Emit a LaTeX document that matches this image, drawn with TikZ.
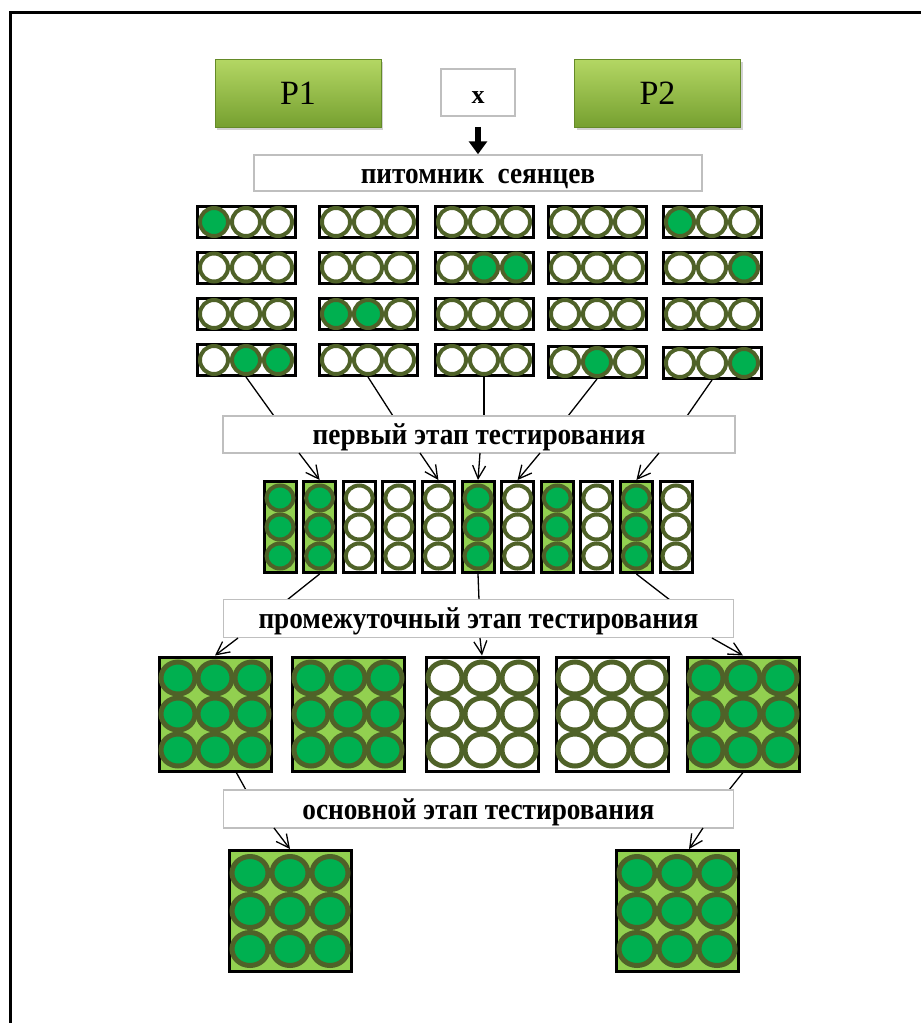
\documentclass[tikz,border=0pt]{standalone}
\usepackage{graphicx}
\usepackage{fontspec}
\setmainfont{Liberation Serif}
\usetikzlibrary{arrows.meta,shadows}
\definecolor{olv}{HTML}{4F6228}
\definecolor{gD}{HTML}{00B050}
\definecolor{gL}{HTML}{92D050}
\definecolor{lgray}{HTML}{BFBFBF}
\definecolor{pTop}{RGB}{180,215,100}
\definecolor{pBot}{RGB}{118,160,48}
\definecolor{pEdge}{RGB}{100,138,40}
\newcommand\labtxt[1]{\scalebox{1.01}[1.12]{#1}}
\tikzset{
  pbox/.style={draw=pEdge, line width=1pt, top color=pTop, bottom color=pBot,
    minimum width=166pt, minimum height=68pt, inner sep=0pt,
    font=\fontsize{34}{38}\selectfont,
    drop shadow={opacity=0.35, shadow xshift=2pt, shadow yshift=-2.5pt}},
  xbox/.style={draw=lgray, line width=1.5pt, fill=white, minimum width=74pt,
    minimum height=47pt, inner sep=0pt, text height=21pt, text depth=0pt,
    font=\bfseries\fontsize{26}{30}\selectfont},
  lab/.style={draw=lgray, line width=1.5pt, fill=white, inner sep=0pt,
    text height=20pt, text depth=0pt,
    font=\bfseries\fontsize{27}{30}\selectfont},
  hbox/.style={draw=black, line width=3pt, fill=white, minimum width=98pt,
    minimum height=31pt, inner sep=0pt},
  vbox/.style={draw=black, line width=3pt, minimum width=32pt,
    minimum height=91pt, inner sep=0pt},
  sqbox/.style={draw=black, line width=3pt, minimum width=112pt,
    minimum height=114pt, inner sep=0pt},
  bsqbox/.style={draw=black, line width=3pt, fill=gL, minimum width=122pt,
    minimum height=121pt, inner sep=0pt},
  circ/.style={draw=olv, line width=4pt},
  circs/.style={draw=olv, line width=5pt},
  conn/.style={line width=1.3pt, draw=black},
  arr/.style={conn, -{Straight Barb[length=13pt,width=13pt]}},
}
\newcommand\mkh[6]{%
  \node[hbox] (#1) at (#2,#3) {};
  \draw[circ,fill=#4] (#2-32,#3) circle[radius=14];
  \draw[circ,fill=#5] (#2,#3) circle[radius=14];
  \draw[circ,fill=#6] (#2+32,#3) circle[radius=14];
}
\newcommand\mkv[4]{%
  \node[vbox,fill=#4] (#1) at (#2,527) {};
  \draw[circ,fill=#3] (#2,498) ellipse[x radius=13.5,y radius=12.5];
  \draw[circ,fill=#3] (#2,527) ellipse[x radius=13.5,y radius=12.5];
  \draw[circ,fill=#3] (#2,556) ellipse[x radius=13.5,y radius=12.5];
}
\newcommand\mksq[5]{%
  \node[sqbox,fill=#5] (#1) at (#2,#3) {};
  \foreach \ii in {-37,0,37}{\foreach \jj in {-36,0,36}{
    \draw[circs,fill=#4] (#2+\ii,#3+\jj) ellipse[x radius=17,y radius=16];}}
}
\newcommand\mkbsq[3]{%
  \node[bsqbox] (#1) at (#2,#3) {};
  \foreach \ii in {-40,0,40}{\foreach \jj in {-38,0,38}{
    \draw[circs,fill=gD] (#2+\ii,#3+\jj) ellipse[x radius=18,y radius=16.5];}}
}
\begin{document}
\begin{tikzpicture}[x=1pt,y=-1pt]
\useasboundingbox (0,0) rectangle (921,1023);
\fill[white] (0,0) rectangle (921,1023);
\draw[line width=3pt] (10.5,1023) -- (10.5,12) -- (921,12);

% top
\node[pbox] (p1) at (298,93) {P1};
\node[pbox] (p2) at (657.5,93) {P2};
\node[xbox] (xb) at (478,92.5) {x};
\node[lab, minimum width=448pt, minimum height=36pt] (nurs) at (478,173) {\labtxt{питомник\ \ сеянцев}};
\draw[line width=6pt, -{Triangle[length=13pt,width=18pt]}, shorten <=10pt] (xb.south) -- (nurs.north);

% connector end points on labels
\coordinate (t1) at (274,416);
\coordinate (t2) at (393,416);
\coordinate (t3) at (484,416);
\coordinate (t4) at (568,416);
\coordinate (t5) at (687,416);
\coordinate (s1) at (299,453);
\coordinate (s2) at (420,453);
\coordinate (s3) at (480,453);
\coordinate (s4) at (540,453);
\coordinate (s5) at (659,453);
\coordinate (u1) at (287,600);
\coordinate (u2) at (479,600);
\coordinate (u3) at (670,600);
\coordinate (w1) at (238,638);
\coordinate (w2) at (480,638);
\coordinate (w3) at (712,638);
\coordinate (v1) at (246,790);
\coordinate (v2) at (729,790);
\coordinate (z1) at (274,828);
\coordinate (z2) at (703,828);

% seedling rows
\mkh{r1a}{246}{222}{gD}{white}{white}
\mkh{r1b}{368}{222}{white}{white}{white}
\mkh{r1c}{484}{222}{white}{white}{white}
\mkh{r1d}{597}{222}{white}{white}{white}
\mkh{r1e}{712}{222}{gD}{white}{white}

\mkh{r2a}{246}{267.5}{white}{white}{white}
\mkh{r2b}{368}{267.5}{white}{white}{white}
\mkh{r2c}{484}{267.5}{white}{gD}{gD}
\mkh{r2d}{597}{267.5}{white}{white}{white}
\mkh{r2e}{712}{267.5}{white}{white}{gD}

\mkh{r3a}{246}{314}{white}{white}{white}
\mkh{r3b}{368}{314}{gD}{gD}{white}
\mkh{r3c}{484}{314}{white}{white}{white}
\mkh{r3d}{597}{314}{white}{white}{white}
\mkh{r3e}{712}{314}{white}{white}{white}

\mkh{r4a}{246}{360}{white}{gD}{gD}
\mkh{r4b}{368}{360}{white}{white}{white}
\mkh{r4c}{484}{360}{white}{white}{white}
\mkh{r4d}{597}{362}{white}{gD}{white}
\mkh{r4e}{712}{363}{white}{white}{gD}

% row 4 -> first stage
\draw[conn] (r4a.south) -- (t1);
\draw[conn] (r4b.south) -- (t2);
\draw[conn] (r4c.south) -- (t3);
\draw[conn] (r4d.south) -- (t4);
\draw[conn] (r4e.south) -- (t5);
\node[lab, minimum width=512pt, minimum height=37pt] (lab1) at (479,434.5) {\labtxt{первый этап тестирования}};

% columns
\mkv{c1}{280}{gD}{gL}
\mkv{c2}{319.6}{gD}{gL}
\mkv{c3}{359.2}{white}{white}
\mkv{c4}{398.8}{white}{white}
\mkv{c5}{438.4}{white}{white}
\mkv{c6}{478}{gD}{gL}
\mkv{c7}{517.6}{white}{white}
\mkv{c8}{557.2}{gD}{gL}
\mkv{c9}{596.8}{white}{white}
\mkv{c10}{636.4}{gD}{gL}
\mkv{c11}{676}{white}{white}

\draw[arr] (s1) -- (c2.north);
\draw[arr] (s2) -- (c5.north);
\draw[arr] (s3) -- (c6.north);
\draw[arr] (s4) -- (c7.north);
\draw[arr] (s5) -- (c10.north);

\draw[conn] (c2.south) -- (u1);
\draw[conn] (c6.south) -- (u2);
\draw[conn] (c10.south) -- (u3);
\node[lab, minimum width=510pt, minimum height=38pt] (lab2) at (478.5,618.5) {\labtxt{промежуточный этап тестирования}};

% squares
\mksq{sq1}{215}{714}{gD}{gL}
\mksq{sq2}{348}{714}{gD}{gL}
\mksq{sq3}{482}{714}{white}{white}
\mksq{sq4}{612}{714}{white}{white}
\mksq{sq5}{743}{714}{gD}{gL}

\draw[arr] (w1) -- (sq1.north);
\draw[arr] (w2) -- (sq3.north);
\draw[arr] (w3) -- (sq5.north);

\draw[conn] (sq1.-70) -- (v1);
\draw[conn] (sq5.south) -- (v2);
\node[lab, minimum width=510pt, minimum height=38pt] (lab3) at (478.5,809) {\labtxt{основной этап тестирования}};

% final squares
\mkbsq{bq1}{290}{911}
\mkbsq{bq2}{677}{911}
\draw[arr] (z1) -- (bq1.north);
\draw[arr] (z2) -- (bq2.79);
\end{tikzpicture}
\end{document}
